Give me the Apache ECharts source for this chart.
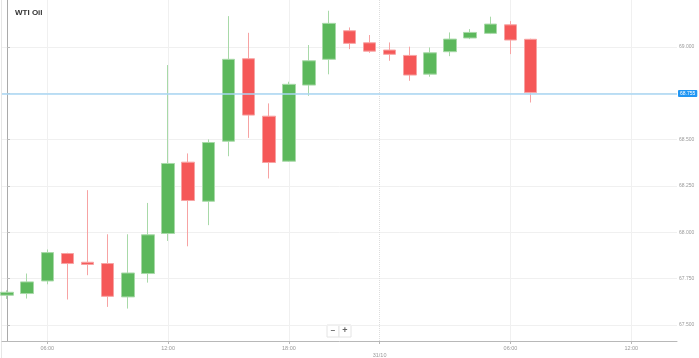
<!DOCTYPE html>
<html>
<head>
<meta charset="utf-8">
<script src="https://cdn.jsdelivr.net/npm/echarts@6/dist/echarts.min.js"></script>
<style>html,body{margin:0;padding:0;background:#fff}#c{width:699px;height:358px}</style>
</head>
<body>
<div id="c"></div>
<script>
// Hourly candles: 30/10 04:00 ... 22:00, 31/10 00:00 ... 07:00
const candleTimes = ['04:00','05:00','06:00','07:00','08:00','09:00','10:00','11:00','12:00','13:00','14:00','15:00','16:00','17:00','18:00','19:00','20:00','21:00','22:00','00:00','01:00','02:00','03:00','04:00','05:00','06:00','07:00'];
const opens  = [67.661,67.670,67.738,67.886,67.839,67.832,67.652,67.778,67.994,68.379,68.168,68.492,68.937,68.627,68.384,68.795,68.934,69.088,69.023,68.984,68.955,68.854,68.975,69.049,69.074,69.120,69.042];
const closes = [67.677,67.733,67.891,67.832,67.827,67.655,67.781,67.987,68.372,68.172,68.485,68.934,68.633,68.377,68.799,68.926,69.128,69.020,68.978,68.961,68.849,68.969,69.043,69.079,69.124,69.038,68.755];
const lows   = [67.641,67.643,67.720,67.638,67.769,67.598,67.589,67.729,67.954,67.925,68.039,68.411,68.510,68.291,68.380,68.737,68.853,68.989,68.969,68.926,68.818,68.840,68.951,69.043,69.070,68.962,68.701];
const highs  = [67.688,67.778,67.908,67.890,68.228,67.990,67.990,68.159,68.903,68.426,68.502,69.167,69.077,68.696,68.813,69.011,69.196,69.106,69.065,69.025,69.002,68.998,69.079,69.097,69.164,69.140,69.045];
const xTickPos    = [2, 8, 14, 18.5, 25, 31];
const xTickLabels = ['06:00','12:00','18:00','31/10','06:00','12:00'];
const yTicks = [67.5, 67.75, 68, 68.25, 68.5, 68.75, 69];
const lastPrice = 68.755;
const title = 'WTI Oil';

const candleData = candleTimes.map((t, i) => [i, opens[i], closes[i], lows[i], highs[i]]);

const chart = echarts.init(document.getElementById('c'));
const gridColor = '#f0f0f0';
const gridLines = [];
yTicks.forEach(v => gridLines.push({yAxis: v}));
xTickPos.forEach((v, i) => gridLines.push({xAxis: v, lineStyle: xTickLabels[i] === '31/10' ? {color: '#dddddd', type: 'dotted'} : {}}));

chart.setOption({
  animation: false,
  backgroundColor: '#fff',
  title: {text: title, left: 10, top: 4, textStyle: {fontSize: 8, fontWeight: 'bold', color: '#333', fontFamily: 'Liberation Sans'}},
  grid: {left: 2, right: 22, top: 0, bottom: 17},
  xAxis: {
    type: 'value', min: -0.248, max: 33.27,
    axisLine: {show: true, lineStyle: {color: '#b8b8b8'}},
    axisTick: {show: true, length: 3, customValues: xTickPos, lineStyle: {color: '#b8b8b8'}},
    splitLine: {show: false},
    axisLabel: {
      customValues: xTickPos, fontSize: 5.5, color: '#999', margin: 4, fontFamily: 'Liberation Sans',
      formatter: v => { const i = xTickPos.indexOf(v); const l = i >= 0 ? xTickLabels[i] : ''; return l === '31/10' ? '{d|' + l + '}' : l; },
      rich: {d: {fontSize: 5.5, color: '#999', padding: [7, 0, 0, 0], fontFamily: 'Liberation Sans'}}
    }
  },
  yAxis: {
    type: 'value', position: 'right', min: 67.414, max: 69.254, scale: true,
    axisLine: {show: true, lineStyle: {color: '#aaa'}},
    axisTick: {show: true, length: 3, customValues: yTicks, lineStyle: {color: '#bbb'}},
    splitLine: {show: false},
    axisLabel: {customValues: yTicks, fontSize: 5, color: '#999', margin: 2, fontFamily: 'Liberation Sans', formatter: v => v.toFixed(3)}
  },
  series: [
    {
      type: 'line', data: [], silent: true, z: 0,
      markLine: {silent: true, symbol: 'none', z: 0, label: {show: false}, animation: false,
        lineStyle: {color: gridColor, type: 'solid', width: 1}, data: gridLines}
    },
    {
      type: 'candlestick', data: candleData, encode: {x: 0, y: [1, 2, 3, 4]}, barWidth: 13, z: 3,
      itemStyle: {color: '#5cb85c', color0: '#f55858', borderColor: '#a8d9a8', borderColor0: '#f7a3a3', borderWidth: 1},
      markLine: {silent: true, symbol: 'none', z: 4, animation: false,
        lineStyle: {color: '#a9d6f3', type: 'solid', width: 1.5},
        label: {show: true, position: 'end', distance: 1, formatter: lastPrice.toFixed(3), color: '#fff', fontSize: 5,
          backgroundColor: '#2196f3', padding: [1, 2, 1, 2], borderRadius: 1, fontFamily: 'Liberation Sans'},
        data: [{yAxis: lastPrice}]}
    }
  ],
  graphic: [
    {type: 'line', shape: {x1: 1.5, y1: 0, x2: 1.5, y2: 358}, style: {stroke: '#e6e6e6', lineWidth: 1}, silent: true},
    {type: 'rect', shape: {x: 327, y: 325, width: 12, height: 12}, style: {fill: '#fff', stroke: '#e4e4e4'}, silent: true},
    {type: 'rect', shape: {x: 339, y: 325, width: 12, height: 12}, style: {fill: '#fff', stroke: '#e4e4e4'}, silent: true},
    {type: 'text', x: 333, y: 331, style: {text: '−', fill: '#666', font: 'bold 8px Liberation Sans', align: 'center', verticalAlign: 'middle'}, silent: true},
    {type: 'text', x: 345, y: 331, style: {text: '+', fill: '#666', font: 'bold 9px Liberation Sans', align: 'center', verticalAlign: 'middle'}, silent: true}
  ]
});
</script>
</body>
</html>
